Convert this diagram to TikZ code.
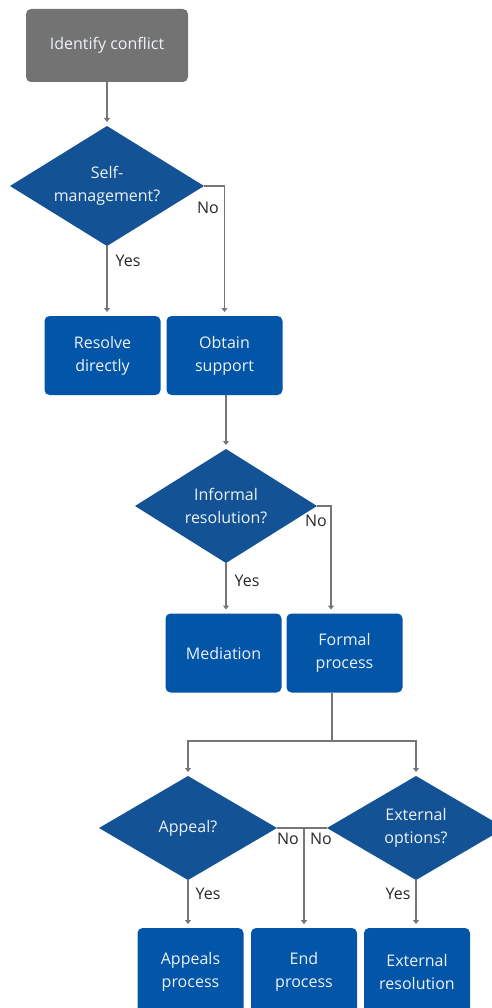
\documentclass[tikz,border=0pt]{standalone}
\usepackage{fontspec}
\setmainfont{Open Sans}
\usetikzlibrary{shapes.geometric,arrows.meta}

\definecolor{boxblue}{HTML}{0355A8}
\definecolor{dmdblue}{HTML}{135395}
\definecolor{startgrey}{HTML}{737373}
\definecolor{linegrey}{HTML}{767676}
\definecolor{boxtext}{HTML}{EEF2F7}

\tikzset{
  every node/.style={font=\fontsize{16}{23}\selectfont},
  startbox/.style={rectangle, rounded corners=5pt, fill=startgrey, text=boxtext,
    align=center, inner sep=0pt, outer sep=0pt, minimum width=162pt, minimum height=73pt},
  process/.style={rectangle, rounded corners=5pt, fill=boxblue, text=boxtext,
    align=center, inner sep=0pt, outer sep=0pt, minimum width=116pt, minimum height=79pt},
  endbox/.style={process, minimum width=106pt, minimum height=88pt},
  decision/.style={diamond, aspect=1.65, fill=dmdblue, text=boxtext, align=center,
    inner sep=0pt, outer sep=0pt},
  flow/.style={draw=linegrey, line width=1.4pt, shorten >=4pt,
    -{Triangle[length=4pt,width=6pt]}},
  link/.style={draw=linegrey, line width=1.4pt},
  answer/.style={text=black!85, inner sep=0pt}
}

\begin{document}
\begin{tikzpicture}[x=1pt,y=-1pt]

   \useasboundingbox (0,0) rectangle (491,1008);

   % nodes
   \node[startbox] (start) at (107,45.5) {Identify conflict};
   \node[decision, minimum width=194pt, minimum height=120pt] (selfmgmt) at (107,186) {Self-\\management?};
   \node[process] (resolve) at (102.5,355.5) {Resolve\\directly};
   \node[process] (obtain) at (224.5,355.5) {Obtain\\support};
   \node[decision, minimum width=182pt, minimum height=114pt] (informal) at (226,506) {Informal\\resolution?};
   \node[process] (mediation) at (223.5,653) {Mediation};
   \node[process] (formal) at (344.5,653) {Formal\\process};
   \coordinate (split) at (332,741);
   \node[decision, minimum width=178pt, minimum height=104pt] (appeal) at (188,828) {Appeal?};
   \node[decision, minimum width=178pt, minimum height=104pt] (external) at (416,828) {External\\options?};
   \node[endbox] (appealsp) at (190.5,972) {Appeals\\process};
   \node[endbox] (endp) at (304,972) {End\\process};
   \node[endbox] (extres) at (417,972) {External\\resolution};

   % connectors
   \draw[flow] (start) -- (selfmgmt);
   \draw[flow] (selfmgmt.south) -- (selfmgmt.south |- resolve.north);
   \draw[flow] (selfmgmt.east) -| (obtain.north);
   \draw[flow] (informal.north |- obtain.south) -- (informal.north);
   \draw[flow] (informal.south) -- (informal.south |- mediation.north);
   \draw[flow] (informal.east) -| ([xshift=-13.5pt]formal.north);
   \draw[link] (split |- formal.south) -- (split);
   \draw[flow] (split) -| (appeal.north);
   \draw[flow] (split) -| (external.north);
   \draw[flow] (appeal.south) -- (appeal.south |- appealsp.north);
   \draw[flow] (appeal.east) -| (endp.north);
   \draw[flow] (external.west) -| (endp.north);
   \draw[flow] (external.south) -- (external.south |- extres.north);

   % answers
   \node[answer] (no1) at (208,208) {No};
   \node[answer] (yes1) at (128,261) {Yes};
   \node[answer] (no2) at (316,521) {No};
   \node[answer] (yes2) at (247,581) {Yes};
   \node[answer] (no3) at (288,839) {No};
   \node[answer] (no4) at (321,839) {No};
   \node[answer] (yes3) at (208,894) {Yes};
   \node[answer] (yes4) at (398,894) {Yes};

\end{tikzpicture}
\end{document}
